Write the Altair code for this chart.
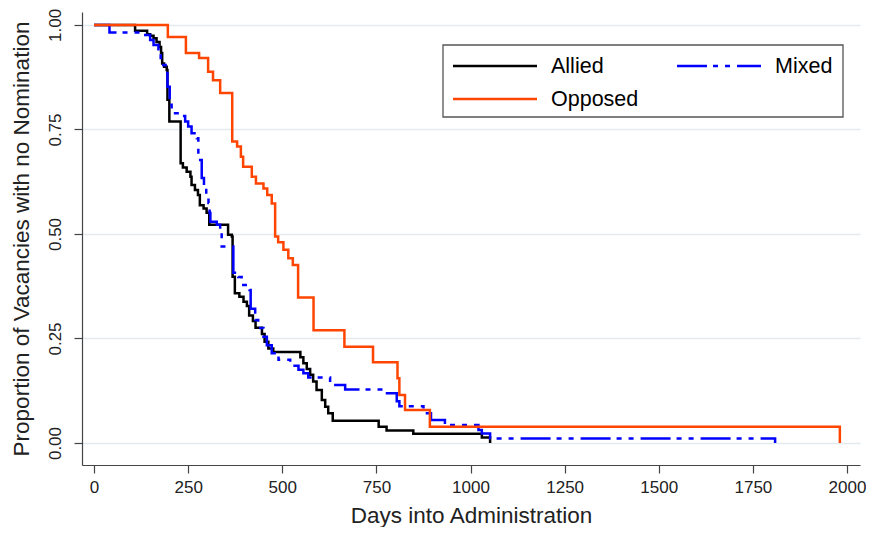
import altair as alt
import pandas as pd

groups = ["Allied", "Mixed", "Opposed"]
colors = ["#000000", "#0000ff", "#ff4500"]
dashes = [[1, 0], [30, 6, 5, 7, 5, 7], [1, 0]]

allied_days = [0, 109, 141, 149, 158, 166, 174, 178, 181, 186, 193, 195, 200, 230, 236, 246, 256, 259,
               268, 276, 281, 291, 299, 306, 356, 366, 368, 374, 386, 397, 406, 412, 422, 429, 446,
               453, 463, 476, 548, 556, 565, 574, 582, 591, 605, 614, 622, 634, 756, 777, 848, 1030, 1052]
allied_p = [1.0, 0.986, 0.978, 0.974, 0.968, 0.959, 0.947, 0.933, 0.908, 0.900, 0.892, 0.821, 0.769,
            0.669, 0.659, 0.649, 0.637, 0.617, 0.605, 0.593, 0.569, 0.561, 0.551, 0.522, 0.498, 0.494,
            0.398, 0.358, 0.350, 0.338, 0.328, 0.305, 0.292, 0.276, 0.261, 0.242, 0.226, 0.218, 0.205,
            0.191, 0.177, 0.163, 0.147, 0.127, 0.103, 0.087, 0.071, 0.053, 0.039, 0.030, 0.022, 0.013, 0.0]

mixed_days = [0, 41, 122, 149, 158, 171, 177, 184, 190, 195, 201, 206, 233, 242, 250, 259, 273, 277,
              282, 286, 292, 298, 304, 307, 309, 326, 335, 339, 370, 383, 392, 413, 416, 428, 436,
              450, 459, 472, 490, 521, 529, 543, 556, 569, 627, 667, 773, 804, 811, 875, 895, 932,
              1021, 1030, 1052, 1809]
mixed_p = [1.0, 0.982, 0.976, 0.964, 0.952, 0.931, 0.916, 0.904, 0.885, 0.852, 0.809, 0.789, 0.782,
           0.769, 0.757, 0.741, 0.729, 0.689, 0.677, 0.634, 0.613, 0.596, 0.574, 0.550, 0.529, 0.522,
           0.510, 0.470, 0.407, 0.397, 0.378, 0.366, 0.321, 0.294, 0.275, 0.254, 0.234, 0.215, 0.199,
           0.194, 0.185, 0.175, 0.167, 0.157, 0.139, 0.128, 0.119, 0.100, 0.088, 0.071, 0.055, 0.043,
           0.031, 0.023, 0.011, 0.0]

opposed_days = [0, 196, 244, 279, 303, 316, 335, 367, 380, 390, 396, 419, 430, 450, 460, 472, 481,
                489, 503, 516, 528, 542, 583, 665, 741, 806, 811, 826, 892, 1981]
opposed_p = [1.0, 0.971, 0.933, 0.921, 0.888, 0.868, 0.837, 0.721, 0.709, 0.685, 0.661, 0.637, 0.621,
             0.609, 0.593, 0.573, 0.494, 0.480, 0.462, 0.442, 0.426, 0.348, 0.270, 0.230, 0.193,
             0.155, 0.115, 0.079, 0.039, 0.0]

x_ticks = [0, 250, 500, 750, 1000, 1250, 1500, 1750, 2000]
y_ticks = [0.0, 0.25, 0.5, 0.75, 1.0]

frames = []
for g, d, p in [("Allied", allied_days, allied_p), ("Mixed", mixed_days, mixed_p),
                ("Opposed", opposed_days, opposed_p)]:
    frames.append(pd.DataFrame({"group": g, "days": d, "p": p, "i": range(len(d))}))
df = pd.concat(frames, ignore_index=True)

FONT = "Liberation Sans"

x = alt.X("days:Q", scale=alt.Scale(domain=[-32, 2034.5], nice=False, zero=False),
          axis=alt.Axis(title="Days into Administration", values=x_ticks, grid=False, format="d",
                        labelFontSize=17, titleFontSize=22.5, titleFontWeight="normal",
                        titlePadding=9, tickSize=8, labelPadding=6))
y = alt.Y("p:Q", scale=alt.Scale(domain=[-0.0526, 1.031], nice=False, zero=False),
          axis=alt.Axis(title="Proportion of Vacancies with no Nomination", values=y_ticks,
                        format=".2f", grid=True, gridColor="#e3eaef", gridWidth=1.3,
                        labelAngle=270, labelAlign="center", labelBaseline="bottom",
                        labelFontSize=17, titleFontSize=22.5, titleFontWeight="normal",
                        titlePadding=13, tickSize=8, labelPadding=10))
color = alt.Color("group:N", scale=alt.Scale(domain=groups, range=colors), legend=None)
dash = alt.StrokeDash("group:N", scale=alt.Scale(domain=groups, range=dashes), legend=None)

layers = []
for g in groups:
    layers.append(
        alt.Chart(df).transform_filter(alt.datum.group == g)
        .mark_line(interpolate="step-after", strokeWidth=2.5, clip=True)
        .encode(x=x, y=y, color=color, strokeDash=dash, order="i:Q")
    )

# legend (drawn as a boxed key in the upper right of the plot area)
one = pd.DataFrame({"k": [0]})
box = alt.Chart(one).mark_rect(fill="white", stroke="#555555", strokeWidth=1.3).encode(
    x=alt.value(361), x2=alt.value(761), y=alt.value(33), y2=alt.value(105))
layers.append(box)
legend_slots = [(371, 54), (595, 54), (371, 87)]  # Allied, Mixed, Opposed
for g, c, dsh, (lx, ly) in zip(groups, colors, dashes, legend_slots):
    layers.append(alt.Chart(one).mark_rule(color=c, strokeWidth=2.5, strokeDash=dsh).encode(
        x=alt.value(lx), x2=alt.value(lx + 84), y=alt.value(ly)))
    layers.append(alt.Chart(one).mark_text(text=g, font=FONT, fontSize=21.5, color="black",
                                           align="left", baseline="middle").encode(
        x=alt.value(lx + 98), y=alt.value(ly + 1)))

chart = alt.layer(*layers).properties(
    width=778, height=453,
    autosize=alt.AutoSizeParams(type="none"),
    padding={"left": 74, "top": 4, "right": 6, "bottom": 62},
    background="white",
).configure_view(strokeWidth=0).configure_axis(
    labelFont=FONT, titleFont=FONT, domainColor="#444444", tickColor="#444444",
    labelColor="#222222", titleColor="#222222", domainWidth=1.2, tickWidth=1.2
)

chart.save("out.html", embed_options={"renderer": "svg", "actions": False})
